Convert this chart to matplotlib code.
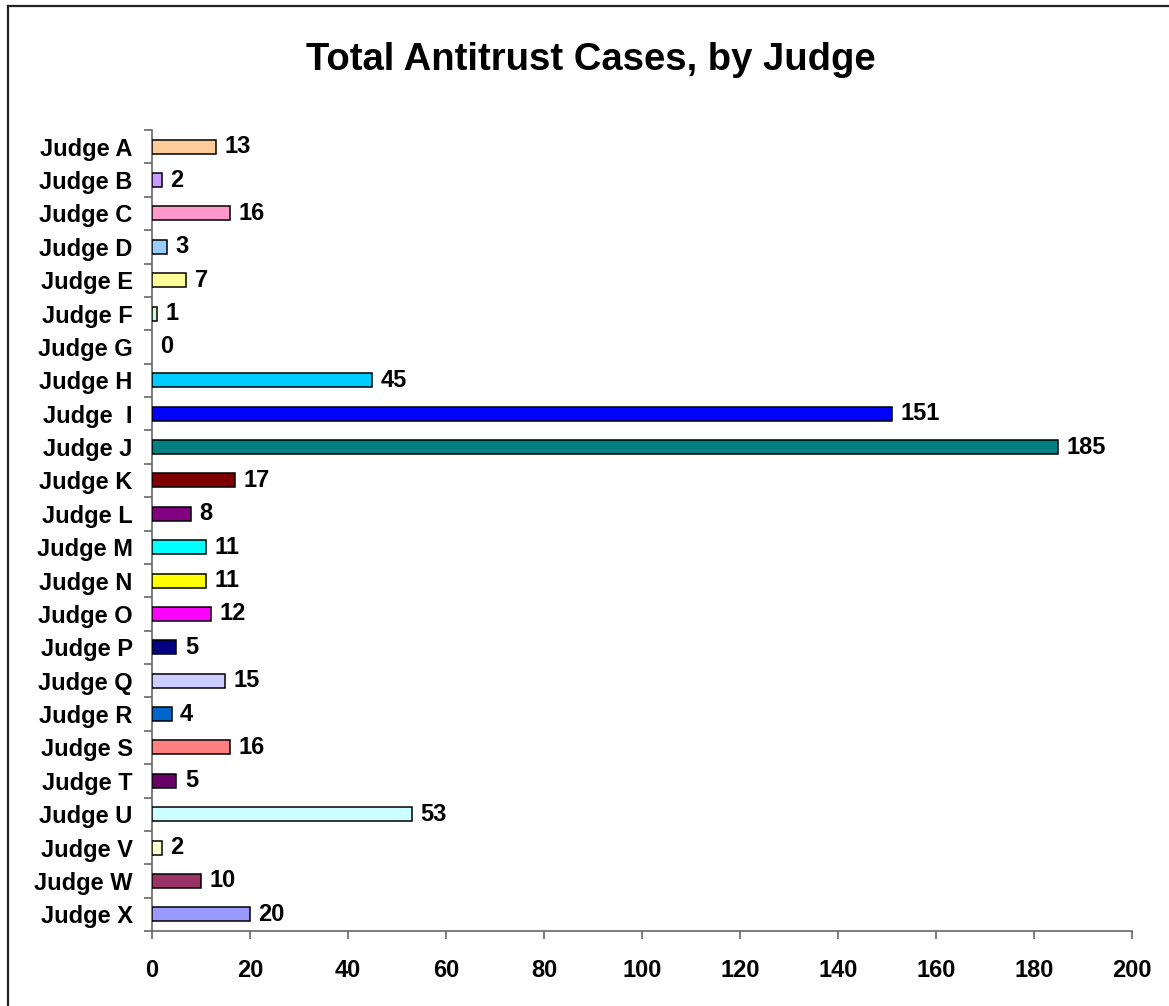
import matplotlib
matplotlib.use("Agg")
import matplotlib.pyplot as plt
from matplotlib.lines import Line2D
import numpy as np

judges = ["Judge A", "Judge B", "Judge C", "Judge D", "Judge E", "Judge F",
          "Judge G", "Judge H", "Judge  I", "Judge J", "Judge K", "Judge L",
          "Judge M", "Judge N", "Judge O", "Judge P", "Judge Q", "Judge R",
          "Judge S", "Judge T", "Judge U", "Judge V", "Judge W", "Judge X"]
cases = [13, 2, 16, 3, 7, 1, 0, 45, 151, 185, 17, 8, 11, 11, 12, 5, 15, 4,
         16, 5, 53, 2, 10, 20]
bar_colors = ["#FFCC99", "#CC99FF", "#FF99CC", "#99CCFF", "#FFFF99", "#CCFFCC",
              "#FFFFFF", "#00CCFF", "#0000FF", "#008080", "#800000", "#800080",
              "#00FFFF", "#FFFF00", "#FF00FF", "#000080", "#CCCCFF", "#0066CC",
              "#FF8080", "#660066", "#CCFFFF", "#FFFFCC", "#993366", "#9999FF"]
x_ticks = [0, 20, 40, 60, 80, 100, 120, 140, 160, 180, 200]
title = "Total Antitrust Cases, by Judge"

plt.rcParams['font.family'] = ['Liberation Sans', 'DejaVu Sans']
plt.rcParams['font.weight'] = 'bold'

W, H = 1169, 1006
fig = plt.figure(figsize=(W / 100, H / 100), dpi=100)
ax = fig.add_axes([152 / W, 1 - 931 / H, (1131.7 - 152) / W, (931 - 130) / H])

n = len(judges)
y = np.arange(n)
bars = ax.barh(y, cases, height=0.42, color=bar_colors, edgecolor="black",
               linewidth=1.1, zorder=3)
for b, v in zip(bars, cases):
    if v == 0:
        b.set_visible(False)

for yi, v in zip(y, cases):
    ax.annotate(str(v), xy=(v, yi), xytext=(6, 0), textcoords="offset points",
                ha="left", va="center", fontsize=17, fontweight="bold",
                color="black")

ax.set_xlim(0, 200)
ax.set_ylim(n - 0.5, -0.5)
ax.set_xticks(x_ticks)
ax.set_xticklabels([str(t) for t in x_ticks], fontsize=17, fontweight="bold")
ax.set_yticks(y)
ax.set_yticklabels(judges, fontsize=17, fontweight="bold")
ax.set_yticks(np.arange(-0.5, n, 1.0), minor=True)

axis_color = "#666666"
for s in ["top", "right"]:
    ax.spines[s].set_visible(False)
for s in ["left", "bottom"]:
    ax.spines[s].set_color(axis_color)
    ax.spines[s].set_linewidth(1.2)

ax.tick_params(axis="y", which="major", length=0, pad=14)
ax.tick_params(axis="y", which="minor", length=6, width=1.2, color=axis_color,
               direction="out")
ax.tick_params(axis="x", which="major", length=6, width=1.2, color=axis_color,
               direction="out", pad=14)

fig.text(591 / W, 1 - 60 / H, title, ha="center", va="center", fontsize=27.5,
         fontweight="bold", color="black")

# outer chart border (left and top visible)
fig.add_artist(Line2D([8 / W, 8 / W], [0, 1 - 6 / H], transform=fig.transFigure,
                      color="#222222", linewidth=1.6))
fig.add_artist(Line2D([8 / W, 1], [1 - 6 / H, 1 - 6 / H], transform=fig.transFigure,
                      color="#222222", linewidth=1.6))

fig.savefig("out.png", dpi=100, facecolor="white")
